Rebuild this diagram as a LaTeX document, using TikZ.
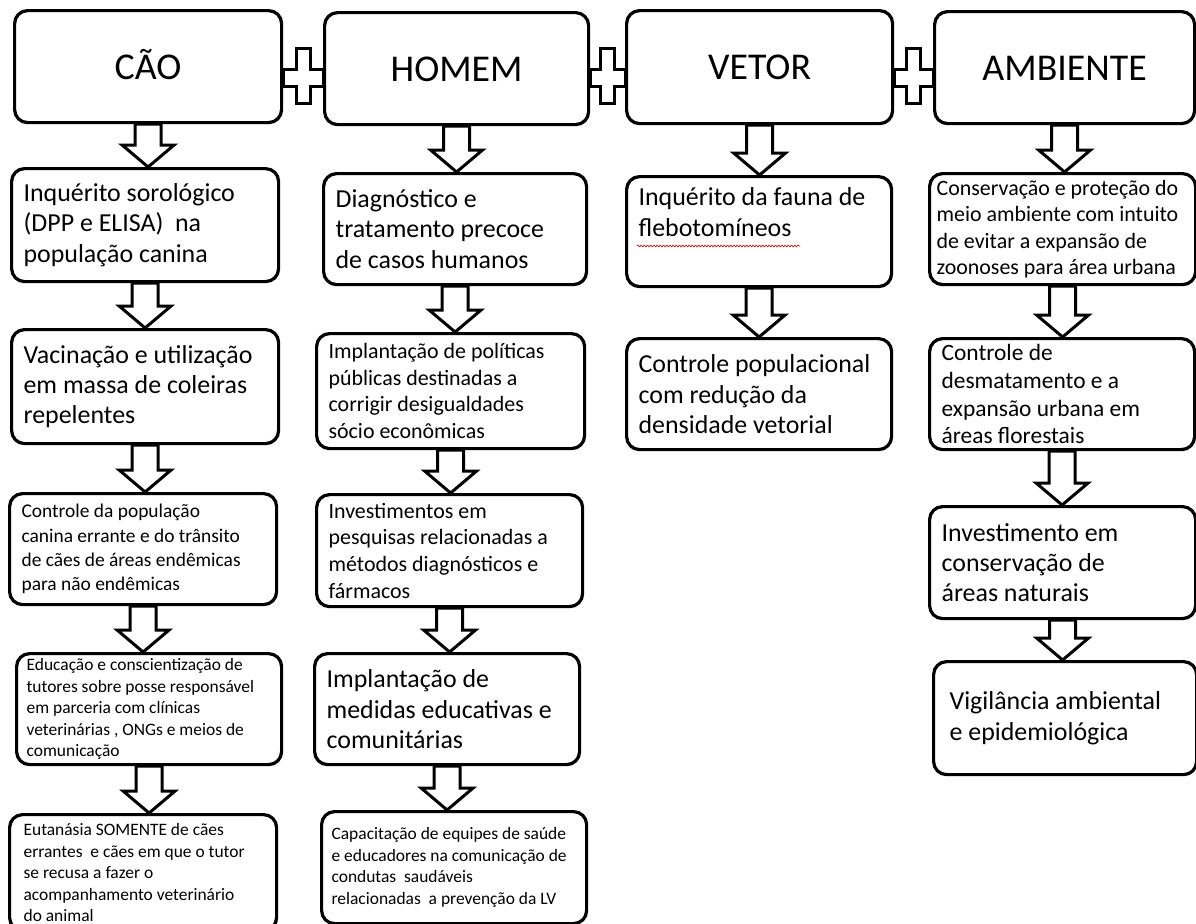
\documentclass[tikz,border=0pt]{standalone}
\usepackage{fontspec}
\setmainfont{Carlito}
\usetikzlibrary{calc,decorations.pathmorphing}

\tikzset{
  card/.style={draw, line width=3.2bp, rounded corners=13bp, anchor=north west,
    fill=white, inner xsep=12bp, inner ysep=0pt, align=flush left},
  title/.style={card, align=center, text height=25bp, text depth=0bp,
    font=\fontsize{38}{44}\selectfont},
  bigtxt/.style={font=\fontsize{26}{30.5}\selectfont},
  midtxt/.style={font=\fontsize{22}{26.7}\selectfont},
  smalltxt/.style={font=\fontsize{17.5}{21.6}\selectfont},
  blockarrow/.style={draw, line width=3bp, fill=white, line join=miter},
  squiggle/.style={red!80!black, line width=0.6bp, decorate,
    decoration={snake, amplitude=0.9bp, segment length=3.2bp}}
}

% block arrow from the bottom of #1 to the top of #2
\newcommand{\flowarrow}[2]{%
  \draw[blockarrow] let \p1=(#1.south), \p2=(#2.north) in
    (\x1-13bp,\y1) -- (\x1-13bp,\y2+22bp) -- (\x1-26bp,\y2+22bp) -- (\x1,\y2)
    -- (\x1+26bp,\y2+22bp) -- (\x1+13bp,\y2+22bp) -- (\x1+13bp,\y1) -- cycle;}

% plus sign joining two title boxes
\newcommand{\pluslink}[2]{%
  \draw[blockarrow] let \p1=(#1.east), \p2=(#2.west), \p3=($(\p1)!0.5!(\p2)$) in
    (\x1,\y3-2bp) -- (\x3-7bp,\y3-2bp) -- (\x3-7bp,\y3+19bp) -- (\x3+7bp,\y3+19bp)
    -- (\x3+7bp,\y3-2bp) -- (\x2,\y3-2bp) -- (\x2,\y3-19bp) -- (\x3+7bp,\y3-19bp)
    -- (\x3+7bp,\y3-36bp) -- (\x3-7bp,\y3-36bp) -- (\x3-7bp,\y3-19bp)
    -- (\x1,\y3-19bp) -- cycle;}

\begin{document}
\begin{tikzpicture}[x=1bp,y=-1bp]
  %\draw[step=100,gray,very thin] (0,0) grid (1196,924);
  \useasboundingbox (0,0) rectangle (1196,924);
  \clip (0,0) rectangle (1196,924);

  % titles
  \node[title, minimum width=267bp, minimum height=112bp] (cao) at (13,9) {CÃO};
  \node[title, minimum width=264bp, minimum height=112bp] (homem) at (323,11) {HOMEM};
  \node[title, minimum width=266bp, minimum height=113bp] (vetor) at (625,9) {VETOR};
  \node[title, minimum width=260bp, minimum height=112bp] (ambiente) at (933,10) {AMBIENTE};

  \pluslink{cao}{homem}
  \pluslink{homem}{vetor}
  \pluslink{vetor}{ambiente}

  % CAO
  \node[card, bigtxt, text width=243bp, minimum height=113bp] (cao1) at (10,167)
    {Inquérito sorológico\\(DPP e ELISA)~ na\\população canina};
  \node[card, bigtxt, text width=243bp, minimum height=114bp] (cao2) at (10,328)
    {Vacinação e utilização\\em massa de coleiras\\repelentes};
  \node[card, font=\fontsize{19.5}{24.5}\selectfont, text width=243bp, minimum height=111bp] (cao3) at (8,492)
    {Controle da população\\canina errante e do trânsito\\de cães de áreas endêmicas\\para não endêmicas};
  \node[card, smalltxt, inner xsep=10bp, text width=245bp, minimum height=111bp] (cao4) at (15,652)
    {Educação e conscientização de\\tutores sobre posse responsável\\em parceria com clínicas\\veterinárias , ONGs e meios de\\comunicação};
  \node[card, smalltxt, inner xsep=14bp, text width=239bp, minimum height=116bp] (cao5) at (8,813)
    {Eutanásia SOMENTE de cães\\errantes~ e cães em que o tutor\\se recusa a fazer o\\acompanhamento veterinário\\do animal};

  \flowarrow{cao}{cao1}
  \flowarrow{cao1}{cao2}
  \flowarrow{cao2}{cao3}
  \flowarrow{cao3}{cao4}
  \flowarrow{cao4}{cao5}

  % HOMEM
  \node[card, bigtxt, text width=239bp, minimum height=111bp] (homem1) at (322,172)
    {Diagnóstico e\\tratamento precoce\\de casos humanos};
  \node[card, midtxt, text width=244bp, minimum height=115bp] (homem2) at (315,332)
    {Implantação de políticas\\públicas destinadas a\\corrigir desigualdades\\sócio econômicas};
  \node[card, midtxt, text width=242bp, minimum height=112bp] (homem3) at (315,493)
    {Investimentos em\\pesquisas relacionadas a\\métodos diagnósticos e\\fármacos};
  \node[card, bigtxt, text width=241bp, minimum height=111bp] (homem4) at (313,652)
    {Implantação de\\medidas educativas e\\comunitárias};
  \node[card, smalltxt, inner xsep=10bp, text width=245bp, minimum height=112bp] (homem5) at (320,810)
    {Capacitação de equipes de saúde\\e educadores na comunicação de\\condutas~ saudáveis\\relacionadas~ a prevenção da LV};

  \flowarrow{homem}{homem1}
  \flowarrow{homem1}{homem2}
  \flowarrow{homem2}{homem3}
  \flowarrow{homem3}{homem4}
  \flowarrow{homem4}{homem5}

  % VETOR
  \node[card, bigtxt, text width=241bp, minimum height=110bp] (vetor1) at (625,175)
    {Inquérito da fauna de\\flebotomíneos\\\strut};
  \node[card, bigtxt, text width=241bp, minimum height=111bp] (vetor2) at (625,337)
    {Controle populacional\\com redução da\\densidade vetorial};
  \draw[squiggle] ([shift={(12,71)}]vetor1.north west) -- ++(163,0);

  \flowarrow{vetor}{vetor1}
  \flowarrow{vetor1}{vetor2}

  % AMBIENTE
  \node[card, midtxt, inner xsep=7bp, text width=252bp, minimum height=111bp] (amb1) at (928,172)
    {Conservação e proteção do\\meio ambiente com intuito\\de evitar a expansão de\\zoonoses para área urbana};
  \node[card, font=\fontsize{23.5}{28}\selectfont, text width=241bp, minimum height=111bp] (amb2) at (928,337)
    {Controle de\\desmatamento e a\\expansão urbana em\\áreas florestais};
  \node[card, bigtxt, text width=242bp, minimum height=112bp] (amb3) at (928,505)
    {Investimento em\\conservação de\\áreas naturais};
  \node[card, bigtxt, inner xsep=16bp, text width=231bp, minimum height=113bp] (amb4) at (932,660)
    {Vigilância ambiental\\e epidemiológica};

  \flowarrow{ambiente}{amb1}
  \flowarrow{amb1}{amb2}
  \flowarrow{amb2}{amb3}
  \flowarrow{amb3}{amb4}
\end{tikzpicture}
\end{document}
